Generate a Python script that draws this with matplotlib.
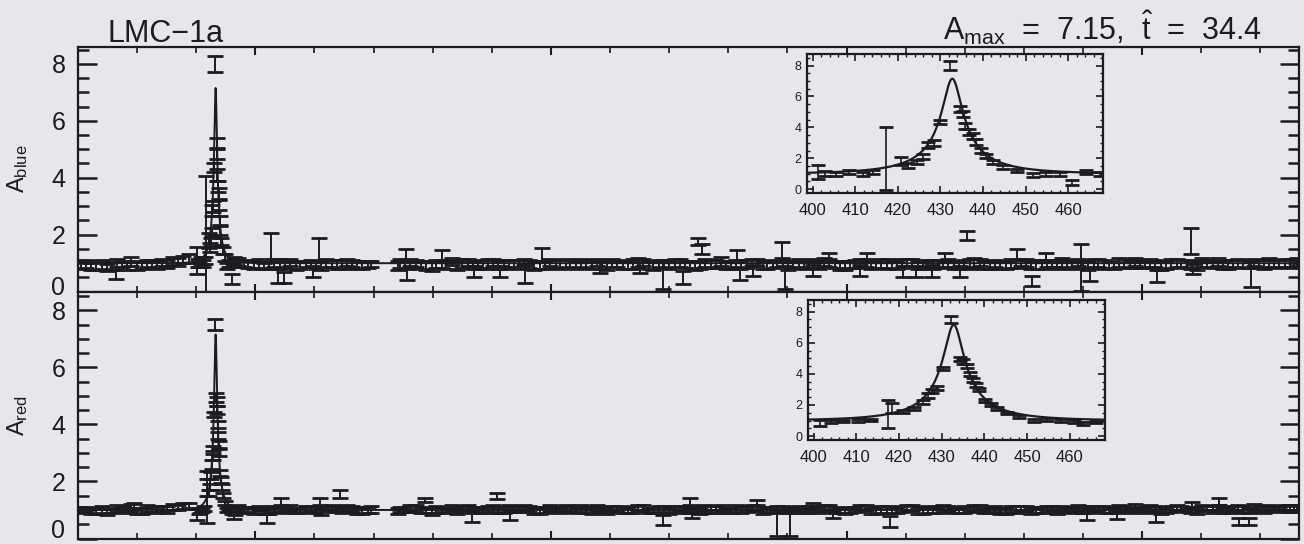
import numpy as np
import matplotlib
matplotlib.use("Agg")
import matplotlib.pyplot as plt
import matplotlib.transforms as mtransforms
from matplotlib.ticker import MultipleLocator, FixedLocator

plt.rcParams["font.family"] = ["Liberation Sans", "DejaVu Sans"]
plt.rcParams["mathtext.fontset"] = "custom"
plt.rcParams["mathtext.rm"] = "Liberation Sans"
plt.rcParams["mathtext.it"] = "Liberation Sans:italic"

# fit parameters of the event
a_max = 7.15
t_hat = 34.4
t_peak = 432.8

# baseline epochs (days), shared by both passbands
t_base = [205, 222, 240, 258, 275, 290, 308, 325, 342, 360, 378,
          480, 497, 515, 532, 550, 568, 585, 602, 620, 638, 655, 672, 690,
          745, 762, 780, 798, 815, 832, 850, 868, 885, 902, 920, 938, 955, 972, 990,
          1008, 1025, 1042, 1060, 1078, 1095, 1112, 1130, 1148, 1165, 1182, 1200,
          1218, 1235, 1252, 1270, 1288, 1305, 1322, 1340, 1358, 1375, 1392, 1410,
          1428, 1445, 1462, 1480, 1498, 1515, 1532, 1550, 1568, 1585, 1602, 1620,
          1638, 1655, 1672, 1690, 1708, 1725, 1742, 1760, 1778, 1795, 1812, 1830,
          1848, 1865, 1882, 1900, 1918, 1935, 1952, 1970, 1988, 2005, 2022, 2040,
          2058, 2075, 2092, 2110, 2128, 2145, 2162, 2180, 2198, 2215, 2232, 2250, 2262]

blue_base = [0.92, 0.88, 0.95, 0.90, 0.97, 1.05, 0.93, 0.96, 1.02, 1.08, 1.12,
             0.98, 0.93, 0.90, 1.00, 0.95, 0.91, 0.97, 0.94, 1.00, 0.96, 1.03, 0.92, 0.95,
             0.98, 1.02, 0.94, 0.90, 0.97, 1.05, 0.99, 0.93, 0.96, 1.01, 0.94, 0.98, 1.04, 0.92, 0.95,
             0.97, 1.00, 0.93, 0.96, 1.02, 0.91, 0.98, 0.95, 1.03, 0.94, 0.99, 0.92,
             1.00, 0.96, 0.93, 0.98, 1.05, 0.94, 0.97, 1.01, 0.92, 0.96, 1.00, 0.95,
             0.93, 0.99, 1.04, 0.96, 0.92, 0.98, 1.01, 0.94, 0.97, 0.95, 1.02, 0.93,
             0.98, 0.96, 1.00, 0.94, 0.97, 1.03, 0.95, 0.92, 0.99, 1.01, 0.94, 0.96,
             0.98, 1.02, 0.93, 0.97, 1.00, 0.95, 0.92, 0.98, 1.04, 0.96, 0.99, 0.94,
             1.01, 0.97, 0.93, 0.99, 1.05, 0.96, 1.00, 0.94, 0.98, 1.02, 0.97, 1.00, 1.03]
blue_base_err = [0.14, 0.12, 0.15, 0.13, 0.12, 0.16, 0.13, 0.14, 0.12, 0.15, 0.13,
                 0.13, 0.15, 0.12, 0.14, 0.13, 0.16, 0.12, 0.14, 0.13, 0.15, 0.12, 0.14, 0.13,
                 0.15, 0.12, 0.14, 0.16, 0.13, 0.12, 0.15, 0.13, 0.14, 0.12, 0.16, 0.13, 0.12, 0.15, 0.14,
                 0.13, 0.15, 0.12, 0.14, 0.13, 0.16, 0.12, 0.14, 0.15, 0.13, 0.12, 0.14,
                 0.15, 0.13, 0.12, 0.14, 0.16, 0.13, 0.15, 0.12, 0.14, 0.13, 0.15, 0.12,
                 0.14, 0.16, 0.13, 0.12, 0.15, 0.14, 0.13, 0.12, 0.16, 0.14, 0.13, 0.15,
                 0.12, 0.14, 0.13, 0.15, 0.16, 0.12, 0.14, 0.13, 0.15, 0.12, 0.14, 0.16,
                 0.13, 0.15, 0.12, 0.14, 0.13, 0.16, 0.12, 0.15, 0.14, 0.13, 0.12, 0.15,
                 0.14, 0.13, 0.16, 0.12, 0.14, 0.15, 0.13, 0.12, 0.14, 0.16, 0.13, 0.15, 0.14]

red_base = [1.00, 0.96, 1.02, 0.98, 1.05, 1.08, 0.97, 1.03, 1.06, 1.10, 1.14,
            1.02, 0.98, 0.95, 1.04, 1.00, 0.97, 1.03, 0.99, 1.05, 1.01, 1.07, 0.97, 1.00,
            1.03, 1.06, 0.99, 0.95, 1.02, 1.08, 1.04, 0.98, 1.01, 1.05, 0.99, 1.03, 1.07, 0.97, 1.00,
            1.02, 1.05, 0.98, 1.01, 1.06, 0.96, 1.03, 1.00, 1.07, 0.99, 1.04, 0.97,
            1.05, 1.01, 0.98, 1.03, 1.08, 0.99, 1.02, 1.06, 0.97, 1.01, 1.05, 1.00,
            0.98, 1.04, 1.07, 1.01, 0.97, 1.03, 1.06, 0.99, 1.02, 1.00, 1.06, 0.98,
            1.03, 1.01, 1.05, 0.99, 1.02, 1.07, 1.00, 0.97, 1.04, 1.06, 0.99, 1.01,
            1.03, 1.06, 0.98, 1.02, 1.05, 1.00, 0.97, 1.03, 1.08, 1.01, 1.04, 0.99,
            1.06, 1.02, 0.98, 1.04, 1.08, 1.01, 1.05, 0.99, 1.03, 1.06, 1.02, 1.05, 1.07]
red_base_err = [0.10, 0.09, 0.11, 0.10, 0.09, 0.12, 0.10, 0.11, 0.09, 0.10, 0.11,
                0.10, 0.11, 0.09, 0.10, 0.12, 0.09, 0.10, 0.11, 0.10, 0.09, 0.11, 0.10, 0.12,
                0.09, 0.11, 0.10, 0.12, 0.09, 0.10, 0.11, 0.10, 0.09, 0.12, 0.10, 0.11, 0.09, 0.10, 0.11,
                0.10, 0.12, 0.09, 0.11, 0.10, 0.09, 0.11, 0.10, 0.12, 0.09, 0.10, 0.11,
                0.09, 0.10, 0.11, 0.12, 0.10, 0.09, 0.11, 0.10, 0.12, 0.09, 0.10, 0.11,
                0.10, 0.09, 0.12, 0.10, 0.11, 0.09, 0.10, 0.12, 0.11, 0.09, 0.10, 0.11,
                0.12, 0.10, 0.09, 0.11, 0.10, 0.12, 0.09, 0.11, 0.10, 0.09, 0.12, 0.10,
                0.11, 0.09, 0.10, 0.12, 0.10, 0.11, 0.09, 0.10, 0.12, 0.11, 0.09, 0.10,
                0.11, 0.10, 0.12, 0.09, 0.11, 0.10, 0.12, 0.09, 0.10, 0.11, 0.10, 0.12, 0.09]

# second night of each baseline pair
t_base2 = [213, 231, 249, 266, 283, 299, 316, 333, 351, 369, 387,
           471, 488, 506, 523, 541, 559, 576, 594, 611, 629, 646, 663, 681, 695,
           742, 753, 771, 789, 806, 823, 841, 859, 876, 893, 911, 929, 946, 963, 981, 999,
           1016, 1033, 1051, 1069, 1086, 1103, 1121, 1139, 1156, 1173, 1191, 1209,
           1226, 1243, 1261, 1279, 1296, 1313, 1331, 1349, 1366, 1383, 1401, 1419,
           1436, 1453, 1471, 1489, 1506, 1523, 1541, 1559, 1576, 1593, 1611, 1629,
           1646, 1663, 1681, 1699, 1716, 1733, 1751, 1769, 1786, 1803, 1821, 1839,
           1856, 1873, 1891, 1909, 1926, 1943, 1961, 1979, 1996, 2013, 2031, 2049,
           2066, 2083, 2101, 2119, 2136, 2153, 2171, 2189, 2206, 2223, 2241, 2257]

blue_base2 = [0.97, 0.91, 0.86, 0.99, 0.93, 0.90, 1.00, 0.94, 0.97, 1.04, 1.15,
              1.05, 0.96, 0.99, 0.92, 0.97, 1.02, 0.93, 0.98, 0.91, 1.00, 0.95, 0.99, 0.93, 0.97,
              0.92, 0.96, 1.00, 0.93, 0.98, 0.94, 0.91, 1.02, 0.95, 0.97, 0.93, 1.00, 0.96, 0.98, 0.92, 1.01,
              0.94, 0.98, 1.01, 0.93, 0.96, 1.00, 0.94, 0.97, 1.02, 0.92, 0.97, 0.99,
              0.95, 0.92, 1.01, 0.97, 0.93, 0.99, 0.96, 1.02, 0.94, 0.97, 0.92, 1.00,
              0.97, 0.94, 1.00, 0.93, 0.96, 1.01, 0.92, 0.98, 0.95, 0.99, 1.02, 0.94,
              0.96, 1.00, 0.93, 0.97, 1.01, 0.94, 0.98, 0.92, 0.97, 1.00, 0.95, 0.99,
              0.94, 0.97, 1.01, 0.93, 0.99, 0.96, 1.02, 0.94, 0.97, 1.00, 0.93, 0.98,
              0.99, 0.95, 1.02, 0.96, 0.93, 1.00, 0.97, 1.03, 0.95, 0.99, 1.01, 0.98]
blue_base2_err = [0.13, 0.15, 0.12, 0.14, 0.16, 0.13, 0.12, 0.15, 0.14, 0.13, 0.16,
                  0.14, 0.12, 0.15, 0.13, 0.16, 0.12, 0.14, 0.13, 0.15, 0.12, 0.16, 0.13, 0.14, 0.12,
                  0.15, 0.13, 0.12, 0.16, 0.14, 0.13, 0.15, 0.12, 0.14, 0.16, 0.13, 0.12, 0.15, 0.14, 0.13, 0.12,
                  0.16, 0.14, 0.13, 0.12, 0.15, 0.13, 0.14, 0.16, 0.12, 0.15, 0.13, 0.14,
                  0.12, 0.16, 0.14, 0.13, 0.15, 0.12, 0.14, 0.13, 0.16, 0.12, 0.15, 0.13,
                  0.14, 0.13, 0.15, 0.16, 0.12, 0.14, 0.13, 0.15, 0.12, 0.16, 0.14, 0.13,
                  0.15, 0.12, 0.14, 0.13, 0.16, 0.15, 0.12, 0.14, 0.13, 0.15, 0.16, 0.12,
                  0.13, 0.15, 0.12, 0.16, 0.14, 0.13, 0.15, 0.12, 0.14, 0.13, 0.16, 0.15,
                  0.12, 0.14, 0.16, 0.13, 0.15, 0.12, 0.14, 0.13, 0.16, 0.12, 0.15, 0.14]

red_base2 = [1.01, 0.97, 0.94, 1.04, 0.99, 0.96, 1.05, 1.00, 1.03, 1.09, 1.16,
             1.08, 1.00, 1.04, 0.97, 1.02, 1.06, 0.98, 1.03, 0.96, 1.05, 1.00, 1.04, 0.98, 1.02,
             0.97, 1.01, 1.05, 0.98, 1.03, 0.99, 0.96, 1.07, 1.00, 1.02, 0.98, 1.05, 1.01, 1.03, 0.97, 1.06,
             0.99, 1.03, 1.06, 0.98, 1.01, 1.05, 0.99, 1.02, 1.07, 0.97, 1.02, 1.04,
             1.00, 0.97, 1.06, 1.02, 0.98, 1.04, 1.01, 1.07, 0.99, 1.02, 0.97, 1.05,
             1.02, 0.99, 1.05, 0.98, 1.01, 1.06, 0.97, 1.03, 1.00, 1.04, 1.07, 0.99,
             1.01, 1.05, 0.98, 1.02, 1.06, 0.99, 1.03, 0.97, 1.02, 1.05, 1.00, 1.04,
             0.99, 1.02, 1.06, 0.98, 1.04, 1.01, 1.07, 0.99, 1.02, 1.05, 0.98, 1.03,
             1.04, 1.00, 1.07, 1.01, 0.98, 1.05, 1.02, 1.08, 1.00, 1.04, 1.06, 1.03]
red_base2_err = [0.09, 0.11, 0.10, 0.12, 0.09, 0.10, 0.11, 0.10, 0.12, 0.09, 0.10,
                 0.11, 0.10, 0.09, 0.12, 0.10, 0.11, 0.09, 0.10, 0.12, 0.11, 0.09, 0.10, 0.11, 0.12,
                 0.10, 0.09, 0.11, 0.10, 0.12, 0.09, 0.10, 0.11, 0.09, 0.12, 0.10, 0.11, 0.09, 0.10, 0.12, 0.11,
                 0.09, 0.10, 0.12, 0.11, 0.09, 0.10, 0.11, 0.12, 0.10, 0.09, 0.11, 0.10,
                 0.12, 0.09, 0.10, 0.11, 0.10, 0.12, 0.09, 0.11, 0.10, 0.12, 0.09, 0.10,
                 0.11, 0.10, 0.12, 0.09, 0.10, 0.11, 0.10, 0.12, 0.09, 0.11, 0.10, 0.12,
                 0.10, 0.11, 0.09, 0.12, 0.10, 0.09, 0.11, 0.10, 0.12, 0.09, 0.11, 0.10,
                 0.12, 0.10, 0.11, 0.09, 0.10, 0.12, 0.11, 0.09, 0.10, 0.11, 0.12, 0.10,
                 0.09, 0.11, 0.10, 0.12, 0.09, 0.10, 0.11, 0.12, 0.10, 0.09, 0.11, 0.10]

# points around the peak (shown in the insets too)
t_ev_blue = [401.2, 403.0, 405.5, 408.6, 411.8, 414.2, 417.3, 420.8, 422.5, 424.5,
             426.0, 427.1, 428.5, 429.8, 432.2, 434.5, 435.3, 435.8, 436.8, 437.7,
             438.4, 439.6, 440.8, 442.4, 444.7, 447.9, 451.8, 454.9, 458.0, 460.8,
             464.3, 467.5]
a_ev_blue = [1.10, 1.00, 0.97, 1.10, 1.00, 1.10, 2.00, 1.80, 1.55, 1.75,
             2.10, 2.85, 3.00, 4.35, 8.00, 5.20, 4.85, 4.10, 3.70, 3.45,
             3.05, 2.50, 2.15, 1.75, 1.45, 1.20, 0.90, 1.00, 0.97, 0.45,
             1.10, 1.00]
e_ev_blue = [0.47, 0.15, 0.12, 0.12, 0.12, 0.12, 2.05, 0.25, 0.15, 0.15,
             0.15, 0.18, 0.20, 0.15, 0.28, 0.20, 0.20, 0.20, 0.20, 0.18,
             0.18, 0.15, 0.15, 0.12, 0.12, 0.12, 0.12, 0.12, 0.12, 0.17,
             0.12, 0.12]

t_ev_red = [401.5, 404.0, 407.0, 410.5, 413.5, 417.4, 418.3, 421.0, 423.5, 425.5,
            426.7, 427.8, 428.8, 430.2, 432.2, 434.2, 434.9, 435.8, 436.5, 437.2,
            437.9, 438.7, 440.2, 441.5, 443.0, 445.3, 448.0, 451.5, 454.6, 458.0,
            461.0, 463.1, 466.2]
a_ev_red = [0.85, 0.95, 0.98, 1.00, 1.05, 1.45, 1.80, 1.60, 1.80, 2.20,
            2.60, 2.90, 3.10, 4.35, 7.50, 4.95, 4.80, 4.50, 4.00, 3.60,
            3.30, 3.00, 2.30, 2.05, 1.80, 1.50, 1.25, 1.00, 1.07, 1.00,
            0.95, 0.80, 0.90]
e_ev_red = [0.20, 0.08, 0.08, 0.08, 0.08, 0.90, 0.30, 0.10, 0.10, 0.12,
            0.15, 0.15, 0.15, 0.10, 0.20, 0.15, 0.15, 0.15, 0.12, 0.12,
            0.12, 0.12, 0.10, 0.10, 0.10, 0.08, 0.08, 0.08, 0.08, 0.08,
            0.08, 0.10, 0.08]

# scattered points away from the baseline
t_out_blue = [264, 526, 539, 549, 597, 607, 754, 757, 816, 869, 914, 956, 985,
              1083, 1151, 1189, 1223, 1249, 1255, 1314, 1319, 1342, 1390, 1395,
              1443, 1471, 1522, 1534, 1595, 1618, 1645, 1666, 1691, 1704, 1789,
              1814, 1838, 1897, 1911, 2025, 2083, 2086, 2184]
a_out_blue = [0.60, 1.55, 0.55, 0.50, 0.70, 1.45, 1.30, 0.60, 1.25, 0.70, 0.70, 0.62, 1.30,
              0.85, 0.85, 0.60, 0.50, 1.75, 1.50, 1.25, 0.60, 0.75, 1.45, 0.50,
              0.75, 1.20, 0.75, 1.20, 0.70, 0.70, 0.72, 1.20, 0.70, 1.97, 1.30,
              0.38, 1.20, 0.85, 0.60, 0.55, 1.77, 0.80, 0.60]
e_out_blue = [0.15, 0.50, 0.25, 0.20, 0.20, 0.42, 0.20, 0.20, 0.20, 0.20, 0.20, 0.30, 0.25,
              0.18, 0.18, 0.50, 0.22, 0.12, 0.16, 0.20, 0.20, 0.20, 0.28, 0.40,
              0.20, 0.17, 0.20, 0.17, 0.20, 0.20, 0.22, 0.15, 0.20, 0.17, 0.20,
              0.18, 0.15, 0.82, 0.22, 0.22, 0.45, 0.17, 0.45]

t_out_red = [294, 520, 543, 610, 644, 787, 867, 909, 931, 1189, 1235, 1238, 1348,
             1382, 1404, 1443, 1477, 1573, 1907, 1958, 2024, 2085, 2130, 2164, 2181]
a_out_red = [1.15, 0.70, 1.30, 1.30, 1.55, 1.35, 0.75, 1.50, 0.80, 0.65, 1.30, 0.85, 1.25,
             0.55, 0.55, 1.15, 0.85, 0.60, 0.85, 0.80, 0.75, 1.15, 1.30, 0.60, 0.60]
e_out_red = [0.10, 0.15, 0.13, 0.13, 0.14, 0.08, 0.17, 0.10, 0.15, 0.17, 0.13, 0.13, 0.11,
             0.45, 0.45, 0.10, 0.13, 0.20, 0.20, 0.12, 0.17, 0.13, 0.13, 0.12, 0.12]

ink = "#1c1c1e"
paper = "#e7e6eb"


def paczynski(t, amax, that, t0):
    umin = np.sqrt(2 * amax / np.sqrt(amax ** 2 - 1) - 2)
    u = np.sqrt(umin ** 2 + (2 * (np.asarray(t) - t0) / that) ** 2)
    return (u ** 2 + 2) / (u * np.sqrt(u ** 2 + 4))


def draw_points(ax, t, a, e, cap=6, lw=1.4):
    ax.errorbar(t, a, yerr=e, fmt="none", ecolor=ink, elinewidth=lw,
                capsize=cap, capthick=2.0, zorder=3)


fig = plt.figure(figsize=(13.04, 5.44), dpi=100, facecolor=paper)

ax_b = fig.add_axes([0.0598, 0.4638, 0.9363, 0.4504])
ax_r = fig.add_axes([0.0598, 0.0101, 0.9363, 0.4537])

t_model = np.linspace(200, 2265, 40000)
panels = [
    (ax_b, [(t_base, blue_base, blue_base_err), (t_base2, blue_base2, blue_base2_err),
            (t_ev_blue, a_ev_blue, e_ev_blue), (t_out_blue, a_out_blue, e_out_blue)],
     r"$\mathrm{A_{blue}}$", (0, 8.6), 6),
    (ax_r, [(t_base, red_base, red_base_err), (t_base2, red_base2, red_base2_err),
            (t_ev_red, a_ev_red, e_ev_red), (t_out_red, a_out_red, e_out_red)],
     r"$\mathrm{A_{red}}$", (0, 8.65), 10),
]

for ax, sets, lab, ylim, zero_lift in panels:
    ax.set_facecolor(paper)
    for t, a, e in sets:
        draw_points(ax, t, a, e)
    ax.plot(t_model, paczynski(t_model, a_max, t_hat, t_peak), color=ink, lw=1.4, zorder=4)
    ax.set_xlim(200, 2265)
    ax.set_ylim(*ylim)
    ax.xaxis.set_major_locator(MultipleLocator(500))
    ax.xaxis.set_minor_locator(MultipleLocator(100))
    ax.yaxis.set_major_locator(FixedLocator([0, 2, 4, 6, 8]))
    ax.yaxis.set_minor_locator(MultipleLocator(0.5))
    ax.tick_params(axis="x", which="both", direction="in", top=True, bottom=True,
                   labelbottom=False, color=ink)
    ax.tick_params(axis="x", which="major", length=6, width=1.5)
    ax.tick_params(axis="x", which="minor", length=4, width=1.2)
    ax.tick_params(axis="y", which="both", direction="in", left=True, right=True,
                   color=ink, labelcolor=ink, labelsize=18, pad=9)
    ax.tick_params(axis="y", which="major", length=14, width=1.8)
    ax.tick_params(axis="y", which="minor", length=8, width=1.8)
    for sp in ax.spines.values():
        sp.set_linewidth(1.6)
        sp.set_color(ink)
    ax.set_ylabel(lab, fontsize=17, color=ink)
    ax.yaxis.set_label_coords(-0.039, 0.5)
    # lift the "0" label off the bottom spine
    lift = mtransforms.ScaledTranslation(0, zero_lift / 100, fig.dpi_scale_trans)
    zero_tick = ax.yaxis.get_major_ticks()[0]
    zero_tick.label1.set_transform(zero_tick.label1.get_transform() + lift)

# insets around the peak
inset_boxes = [[0.6189, 0.6452, 0.2270, 0.2555], [0.6196, 0.1912, 0.2278, 0.2574]]
inset_sets = [(t_ev_blue, a_ev_blue, e_ev_blue), (t_ev_red, a_ev_red, e_ev_red)]
t_zoom = np.linspace(398.7, 468.2, 2000)
for box, (tev, aev, eev) in zip(inset_boxes, inset_sets):
    ins = fig.add_axes(box)
    ins.set_facecolor(paper)
    draw_points(ins, tev, aev, eev, cap=5, lw=1.2)
    ins.plot(t_zoom, paczynski(t_zoom, a_max, t_hat, t_peak), color=ink, lw=1.6, zorder=4)
    ins.set_xlim(398.7, 468.2)
    ins.set_ylim(-0.25, 8.75)
    ins.set_xticks([400, 410, 420, 430, 440, 450, 460])
    ins.xaxis.set_minor_locator(MultipleLocator(2))
    ins.yaxis.set_major_locator(MultipleLocator(2))
    ins.yaxis.set_minor_locator(MultipleLocator(0.5))
    ins.tick_params(which="both", direction="in", top=True, right=True, color=ink,
                    labelcolor=ink)
    ins.tick_params(axis="x", which="major", length=5, width=1.2, labelsize=12, pad=7)
    ins.tick_params(axis="y", which="major", length=5, width=1.2, labelsize=9, pad=4)
    ins.tick_params(which="minor", length=2.5, width=1.0)
    for sp in ins.spines.values():
        sp.set_linewidth(1.6)
        sp.set_color(ink)

fig.text(107 / 1304, 1 - 42 / 544, "LMC\u22121a", fontsize=22, color=ink, va="baseline")
fig.text(1262 / 1304, 1 - 40 / 544,
         r"$\mathrm{A_{max}}$  =  7.15,  $\hat{\mathrm{t}}$  =  34.4",
         fontsize=22, color=ink, ha="right", va="baseline")

fig.savefig("out.png", dpi=100, facecolor=paper)
